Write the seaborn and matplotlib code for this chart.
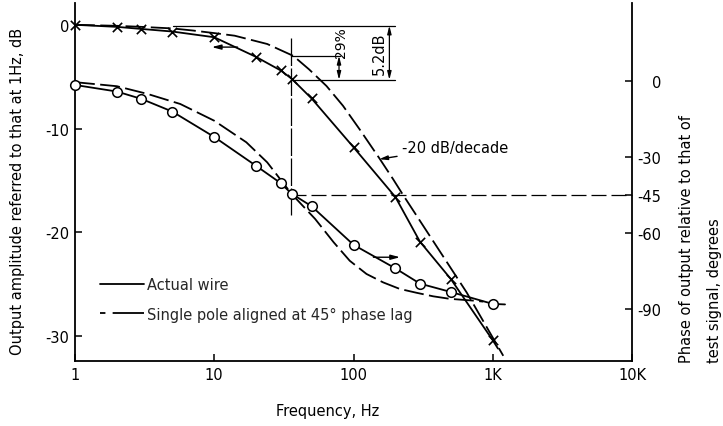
import matplotlib
matplotlib.use("Agg")
import matplotlib.pyplot as plt
import seaborn as sns
import pandas as pd
from matplotlib.lines import Line2D

# ---------------- data ----------------
# Actual wire, amplitude (crosses), dB re 1 Hz
cross_f = [1, 2, 3, 5, 10, 20, 30, 36, 50, 100, 200, 300, 500, 1000]
cross_db = [0, -0.2, -0.4, -0.65, -1.2, -3.1, -4.4, -5.2, -7.1, -11.8, -16.6, -20.9, -24.5, -30.4]
amp_line_end_f = [1090]
amp_line_end_db = [-31.2]

# Actual wire, phase (circles), degrees
circle_f = [1, 2, 3, 5, 10, 20, 30, 36, 50, 100, 200, 300, 500, 1000]
circle_deg = [-1.7, -4.3, -7.2, -12.2, -22.2, -33.6, -40.4, -44.6, -49.5, -64.7, -74.0, -80.0, -83.3, -88.0]
phase_line_end_f = [1225]
phase_line_end_deg = [-88.2]

# Single pole aligned at 45 deg phase lag (dashed), amplitude
pole_amp_f = [1, 2, 3, 5, 7, 10, 14, 24, 37, 48, 64, 84, 111, 154, 193, 227, 284, 650, 1190]
pole_amp_db = [0, -0.1, -0.2, -0.35, -0.55, -0.8, -1.05, -1.85, -3.0, -4.3, -5.9, -7.8,
               -10.1, -12.9, -14.9, -16.4, -18.4, -25.8, -31.9]

# Single pole, phase
pole_ph_f = [1, 2, 3.3, 5.7, 10, 17, 24, 36, 53, 72, 94, 124, 163, 215, 283, 373, 492, 725, 855]
pole_ph_deg = [-0.6, -2.2, -5.2, -9.2, -15.8, -24.3, -32.2, -44.7, -54.5, -63.7, -71.0,
               -76.2, -79.5, -82.1, -83.6, -85.0, -86.0, -86.7, -87.1]

x_ticks = [1, 10, 100, 1000, 10000]
x_ticklabels = ["1", "10", "100", "1K", "10K"]
amp_ticks = [0, -10, -20, -30]
amp_ticklabels = ["0", "-10", "-20", "-30"]
phase_ticks = [0, -30, -45, -60, -90]
phase_ticklabels = ["0", "-30", "-45", "-60", "-90"]

f45 = 35.4          # frequency of 45 deg phase lag
db45 = -5.2         # actual attenuation there
# ----------------------------------------------------------------

sns.set_theme(style="white")
plt.rcParams["font.family"] = ["DejaVu Sans"]

W, H = 723, 427
fig = plt.figure(figsize=(W / 100, H / 100), dpi=100)
L, R, T, B = 75, 632, 4, 362
ax = fig.add_axes([L / W, 1 - B / H, (R - L) / W, (B - T) / H])
ax.set_xscale("log")
ax2 = ax.twinx()

K = "black"
dash_curve = (0, (11, 3))

df_amp = pd.DataFrame({"f": cross_f + amp_line_end_f, "v": cross_db + amp_line_end_db})
df_pamp = pd.DataFrame({"f": pole_amp_f, "v": pole_amp_db})
df_ph = pd.DataFrame({"f": circle_f + phase_line_end_f, "v": circle_deg + phase_line_end_deg})
df_pph = pd.DataFrame({"f": pole_ph_f, "v": pole_ph_deg})

sns.lineplot(data=df_amp, x="f", y="v", ax=ax, color=K, lw=1.3, estimator=None)
sns.lineplot(data=df_pamp, x="f", y="v", ax=ax, color=K, lw=1.3, estimator=None,
             linestyle=dash_curve)
sns.scatterplot(x=cross_f, y=cross_db, ax=ax, marker="x", s=45, color=K,
                linewidth=1.2, zorder=5, clip_on=False)

sns.lineplot(data=df_ph, x="f", y="v", ax=ax2, color=K, lw=1.3, estimator=None)
sns.lineplot(data=df_pph, x="f", y="v", ax=ax2, color=K, lw=1.3, estimator=None,
             linestyle=dash_curve)
sns.scatterplot(x=circle_f, y=circle_deg, ax=ax2, marker="o", s=48, facecolor="white",
                edgecolor=K, linewidth=1.1, zorder=5, clip_on=False)

# axes limits / ticks
ax.set_xlim(1, 10000)
ax.set_ylim(-32.4, 2.1)
ax2.set_ylim(-110.5, 30.6)
ax.set_xticks(x_ticks)
ax.set_xticklabels(x_ticklabels)
ax.xaxis.set_minor_locator(matplotlib.ticker.NullLocator())
ax.set_yticks(amp_ticks)
ax.set_yticklabels(amp_ticklabels)
ax2.set_yticks(phase_ticks)
ax2.set_yticklabels(phase_ticklabels)
ax.set_xlabel("")
ax.set_ylabel("")
ax2.set_ylabel("")

for a in (ax, ax2):
    a.spines["top"].set_visible(False)
    for s in ("left", "right", "bottom"):
        a.spines[s].set_color(K)
        a.spines[s].set_linewidth(1.3)
ax.spines["right"].set_visible(False)
ax2.spines["left"].set_visible(False)
ax2.spines["bottom"].set_visible(False)

ax.tick_params(axis="both", direction="in", length=5, width=1.1, colors=K,
               labelsize=10.5, pad=4)
ax.tick_params(axis="y", left=True, right=False)
ax.tick_params(axis="x", bottom=True, top=False)
ax2.tick_params(axis="y", direction="in", length=5, width=1.1, colors=K,
                labelsize=10.5, pad=21, right=True, left=False)
for lab in ax2.get_yticklabels():
    lab.set_ha("right")

# ---------------- annotations ----------------
# vertical marker at 45 deg frequency
ax.plot([f45, f45], [-1.3, -18.35], color=K, lw=0.9, linestyle=(0, (22, 2)))
# horizontal -45 deg line
ax2.plot([f45, 10000], [-45, -45], color=K, lw=0.9, linestyle=(0, (12, 4)),
         clip_on=False)
# dimension lines
ax.plot([5.06, 198], [-0.08, -0.08], color=K, lw=0.9)
ax.plot([f45, 80], [-2.99, -2.99], color=K, lw=0.9)
ax.plot([f45, 198], [db45 - 0.1, db45 - 0.1], color=K, lw=0.9)
dim_arrow = dict(arrowstyle="<|-|>,head_length=0.4,head_width=0.1", color=K, lw=0.9,
                 shrinkA=0, shrinkB=0)
ax.annotate("", xy=(78.7, -2.99), xytext=(78.7, db45 - 0.1), arrowprops=dim_arrow)
ax.annotate("", xy=(181, -0.08), xytext=(181, db45 - 0.1), arrowprops=dim_arrow)
ax.text(82, -1.65, "29%", rotation=90, ha="center", va="center", fontsize=10, color=K)
ax.text(152, -2.7, "5.2dB", rotation=90, ha="center", va="center", fontsize=10.5, color=K)

small_arrow = "-|>,head_length=0.45,head_width=0.12"
# -20 dB/decade label with arrow
ax.annotate("-20 dB/decade", xy=(153, -12.95), xytext=(222, -11.8), fontsize=10.5,
            color=K, ha="left", va="center",
            arrowprops=dict(arrowstyle=small_arrow, color=K, lw=1.0, shrinkA=1, shrinkB=0))

# arrows pointing to relevant axes
ax.annotate("", xy=(9.6, -2.15), xytext=(14.7, -2.15),
            arrowprops=dict(arrowstyle=small_arrow, color=K, lw=1.0, shrinkA=0, shrinkB=0))
ax2.annotate("", xy=(216, -69.6), xytext=(139, -69.6),
             arrowprops=dict(arrowstyle=small_arrow, color=K, lw=1.0, shrinkA=0, shrinkB=0))

# legend
handles = [Line2D([], [], color=K, lw=1.3),
           Line2D([], [], color=K, lw=1.3, linestyle=(0, (3, 4, 26, 0.1)))]
ax.legend(handles, ["Actual wire", "Single pole aligned at 45° phase lag"],
          loc="upper left", bbox_to_anchor=(100 / W, 1 - 278 / H),
          bbox_transform=fig.transFigure, frameon=False, fontsize=10.5,
          handlelength=3.0, handletextpad=0.2, labelspacing=1.0, borderpad=0,
          borderaxespad=0)

# axis labels
fig.text(17.5 / W, 1 - 191.5 / H, "Output amplitude referred to that at 1Hz, dB",
         rotation=90, ha="center", va="center", fontsize=10.5, color=K)
fig.text(327.5 / W, 1 - 411.7 / H, "Frequency, Hz", ha="center", va="center",
         fontsize=10.5, color=K)
fig.text(687 / W, 1 - 363 / H, "Phase of output relative to that of", rotation=90,
         ha="center", va="bottom", fontsize=10.5, color=K)
fig.text(714 / W, 1 - 363 / H, "test signal, degrees", rotation=90,
         ha="center", va="bottom", fontsize=10.5, color=K)

fig.savefig("out.png", dpi=100, facecolor="white")
